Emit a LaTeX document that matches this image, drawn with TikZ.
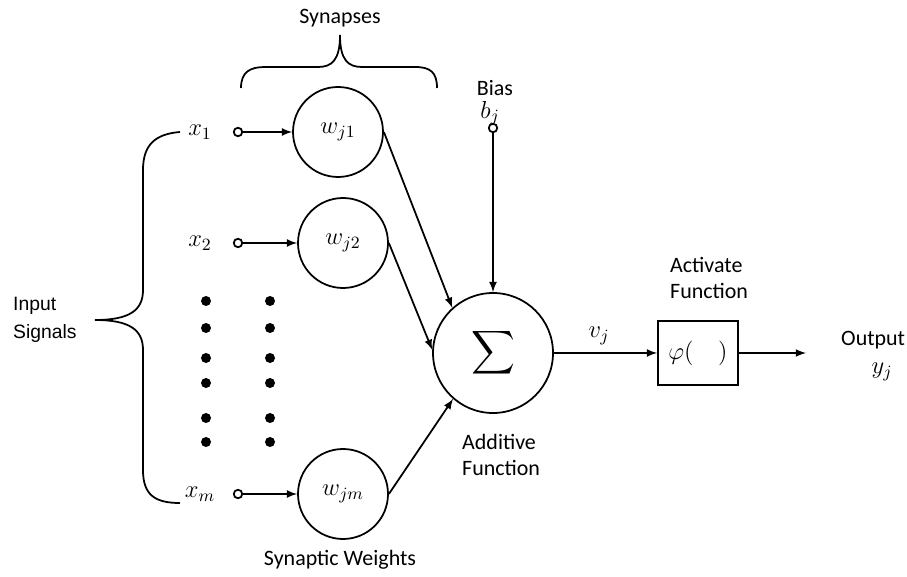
\documentclass[tikz,border=0pt]{standalone}
\usepackage{amsmath}
\usepackage{fix-cm}
\usepackage[no-math]{fontspec}
\setmainfont{Carlito}
\newfontfamily\arialfont{Liberation Sans}
\usetikzlibrary{calc}

\begin{document}
\begin{tikzpicture}[
    every node/.style={font=\fontsize{12.5}{15}\selectfont},
    weight/.style={draw, circle, line width=1pt, minimum size=1.8cm, inner sep=0pt},
    port/.style={draw, circle, line width=1pt, minimum size=0.17cm, inner sep=0pt},
    link/.style={->, >=latex, line width=1pt}]
    \useasboundingbox (0,0) rectangle (18.14,11.52);
    % labels
    \node (syn) at (6.8,11.16) {Synapses};
    \node[anchor=west, align=left, font=\arialfont\fontsize{11}{16}\selectfont] (ins) at (0.14,5.12) {Input\\Signals};
    \node (sw) at (6.8,0.32) {Synaptic Weights};
    \node[anchor=west, align=left] (add) at (9.12,2.42) {Additive\\Function};
    \node[anchor=west, align=left] (actxt) at (13.28,5.96) {Activate\\Function};
    \node[anchor=west] (outxt) at (16.7,4.72) {Output};
    \node (yj) at (17.64,4.08) {\fontsize{14}{16}\selectfont$y_j$};
    \node (vj) at (11.98,4.8) {\fontsize{14}{16}\selectfont$v_j$};
    % braces
    \draw[line width=1pt] (3.6,8.88) .. controls (3.1,8.84) and (2.86,8.62) .. (2.86,8.12)
        -- (2.86,5.72) .. controls (2.86,5.32) and (2.6,5.12) .. (1.9,5.12)
        .. controls (2.6,5.12) and (2.86,4.92) .. (2.86,4.52)
        -- (2.86,2.12) .. controls (2.86,1.62) and (3.1,1.46) .. (3.6,1.46);
    \draw[line width=1pt] (4.82,9.76) .. controls (4.82,10.08) and (5.0,10.18) .. (5.3,10.18)
        -- (6.36,10.18) .. controls (6.64,10.18) and (6.8,10.32) .. (6.8,10.82)
        .. controls (6.8,10.32) and (6.96,10.18) .. (7.24,10.18)
        -- (8.3,10.18) .. controls (8.6,10.18) and (8.74,10.08) .. (8.74,9.76);
    % inputs
    \node (x1) at (4.0,8.88) {\fontsize{14}{16}\selectfont$x_1$};
    \node (x2) at (4.0,6.66) {\fontsize{14}{16}\selectfont$x_2$};
    \node (xm) at (4.0,1.64) {\fontsize{14}{16}\selectfont$x_m$};
    \node[port] (p1) at (4.76,8.88) {};
    \node[port] (p2) at (4.76,6.66) {};
    \node[port] (pm) at (4.76,1.64) {};
    \node[weight] (w1) at (6.76,8.88) {\fontsize{14}{16}\selectfont$w_{j1}$};
    \node[weight] (w2) at (6.86,6.66) {\fontsize{14}{16}\selectfont$w_{j2}$};
    \node[weight] (wm) at (6.86,1.64) {\fontsize{14}{16}\selectfont$w_{jm}$};
    \draw[link] (p1) -- (w1);
    \draw[link] (p2) -- (w2);
    \draw[link] (pm) -- (wm);
    \foreach \y in {5.5,4.96,4.36,3.86,3.16,2.68} {
        \fill (4.12,\y) circle (0.1);
        \fill (5.4,\y) circle (0.1);
    }
    % summing junction
    \node[weight, minimum size=2.4cm] (sum) at (9.86,4.46) {\fontsize{17}{20}\selectfont$\displaystyle\sum$};
    \node[inner sep=1pt] (bias) at (9.9,9.76) {Bias};
    \node[inner sep=1pt] (bj) at (9.8,9.26) {\fontsize{14}{16}\selectfont$b_j$};
    \node[port] (pb) at (9.86,8.96) {};
    \draw[link] (pb) -- (sum);
    \draw[link] (w1.east) -- (sum.132);
    \draw[link] (w2.east) -- (sum.177);
    \draw[link] (wm.east) -- (sum.229);
    % activation
    \node[draw, line width=1pt, minimum width=1.6cm, minimum height=1.28cm] (act) at (13.96,4.46) {\fontsize{14}{16}\selectfont$\varphi(\quad)$};
    \coordinate (out) at (16.12,4.46);
    \draw[link] (sum) -- (act);
    \draw[link] (act) -- (out);
\end{tikzpicture}
\end{document}
